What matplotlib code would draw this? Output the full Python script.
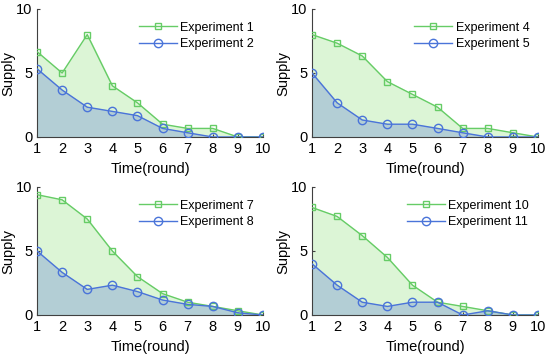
import numpy as np
import matplotlib.pyplot as plt

plt.rcParams['font.family'] = ['Liberation Sans', 'DejaVu Sans']

rounds = [1, 2, 3, 4, 5, 6, 7, 8, 9, 10]

exp1 = [6.67, 5.0, 8.0, 4.0, 2.67, 1.0, 0.67, 0.67, 0.0, 0.0]
exp2 = [5.33, 3.67, 2.33, 2.0, 1.67, 0.67, 0.33, 0.0, 0.0, 0.0]
exp4 = [8.0, 7.33, 6.33, 4.33, 3.33, 2.33, 0.67, 0.67, 0.33, 0.0]
exp5 = [5.0, 2.67, 1.33, 1.0, 1.0, 0.67, 0.33, 0.0, 0.0, 0.0]
exp7 = [9.4, 9.0, 7.5, 5.0, 3.0, 1.67, 1.0, 0.67, 0.33, 0.0]
exp8 = [5.0, 3.33, 2.0, 2.33, 1.83, 1.17, 0.83, 0.67, 0.17, 0.0]
exp10 = [8.4, 7.7, 6.2, 4.5, 2.33, 1.0, 0.67, 0.33, 0.0, 0.0]
exp11 = [4.0, 2.33, 1.0, 0.67, 1.0, 1.0, 0.0, 0.33, 0.0, 0.0]

panels = [
    (exp1, exp2, 'Experiment 1', 'Experiment 2'),
    (exp4, exp5, 'Experiment 4', 'Experiment 5'),
    (exp7, exp8, 'Experiment 7', 'Experiment 8'),
    (exp10, exp11, 'Experiment 10', 'Experiment 11'),
]

green = '#66cc66'
blue = '#4a74d9'

fig = plt.figure(figsize=(5.5, 3.56), dpi=100)
W, H = 550, 356
# axes rectangles in pixels: left, top, right, bottom
boxes = [(37, 9, 263, 137), (312, 9, 538, 137),
         (37, 187, 263, 315), (312, 187, 538, 315)]

for (g, b, lg, lb), (l, t, r, bt) in zip(panels, boxes):
    ax = fig.add_axes([l / W, 1 - bt / H, (r - l) / W, (bt - t) / H])
    ax.fill_between(rounds, g, 0, color='#dcf5d6', zorder=1)
    ax.fill_between(rounds, b, 0, color='#b3ced5', zorder=2)
    ax.plot(rounds, g, '-s', color=green, lw=1, ms=4.5, mfc='none',
            mec=green, mew=1, label=lg, zorder=3)
    ax.plot(rounds, b, '-o', color=blue, lw=1, ms=6, mfc='none',
            mec=blue, mew=1, label=lb, zorder=4)
    ax.set_xlim(1, 10)
    ax.set_ylim(0, 10)
    ax.set_xticks(rounds)
    ax.set_yticks([0, 5, 10])
    ax.tick_params(direction='in', length=2, width=0.8, labelsize=10.5,
                   colors='#404040', labelcolor='black', pad=3.5)
    for s in ['top', 'right']:
        ax.spines[s].set_visible(False)
    for s in ['left', 'bottom']:
        ax.spines[s].set_color('#404040')
        ax.spines[s].set_linewidth(0.8)
    ax.set_xlabel('Time(round)', fontsize=10.5, labelpad=4.5)
    ax.set_ylabel('Supply', fontsize=10.5, labelpad=0)
    ax.legend(loc='upper right', frameon=False, fontsize=9,
              handlelength=3.0, handletextpad=0.3, labelspacing=0.35,
              borderaxespad=0.3, bbox_to_anchor=(1.0, 0.97))

fig.savefig('out.png', dpi=100)
